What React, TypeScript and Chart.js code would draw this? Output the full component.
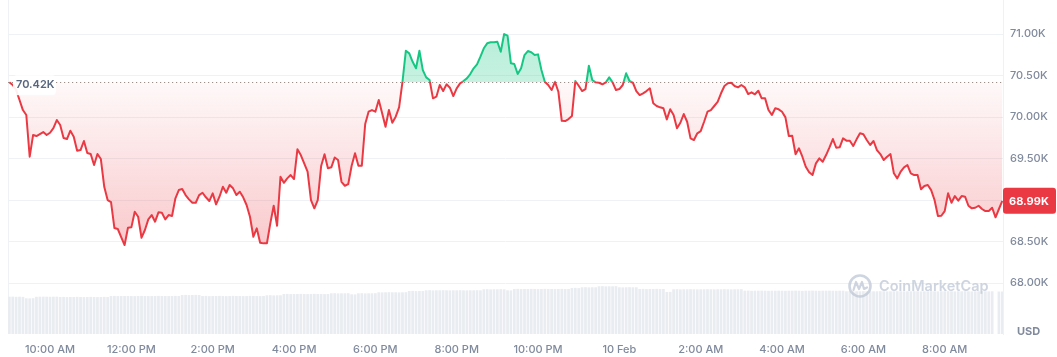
import React, { useEffect, useRef } from 'react';
import { Chart, registerables } from 'chart.js';

Chart.register(...registerables);

// Time axis: minutes relative to 10:00 AM, one sample every 5 minutes starting 9:00 AM
const START_MIN = -60;
const STEP_MIN = 5;
const OPEN_PRICE = 70420;
const LAST_PRICE = 68990;

const prices: number[] = [
  70420, 70386, 70325, 70205, 70084, 70024, 69522, 69783, 69771, 69795,
  69819, 69783, 69811, 69867, 69964, 69904, 69747, 69735, 69835, 69763,
  69594, 69602, 69711, 69566, 69554, 69422, 69554, 69494, 69160, 69000,
  68976, 68663, 68651, 68554, 68458, 68666, 68671, 68859, 68799, 68546,
  68639, 68767, 68819, 68739, 68852, 68847, 68767, 68819, 68807, 69021,
  69120, 69133, 69060, 69008, 68967, 68967, 69060, 69088, 69033, 68988,
  69081, 68948, 69040, 69160, 69088, 69181, 69141, 69060, 69100, 69033,
  68940, 68799, 68558, 68659, 68486, 68478, 68478, 68719, 68931, 68690,
  69281, 69208, 69261, 69301, 69253, 69611, 69542, 69442, 69341, 69000,
  68900, 69000, 69410, 69551, 69382, 69394, 69512, 69482, 69220, 69172,
  69193, 69413, 69563, 69413, 69413, 69916, 70064, 70084, 70064, 70205,
  70045, 69883, 70084, 69931, 70004, 70117, 70425, 70799, 70767, 70666,
  70587, 70799, 70566, 70478, 70446, 70225, 70245, 70386, 70313, 70394,
  70353, 70253, 70346, 70406, 70434, 70466, 70518, 70587, 70635, 70727,
  70828, 70888, 70900, 70900, 70907, 70787, 71000, 70980, 70647, 70639,
  70518, 70587, 70747, 70795, 70780, 70747, 70755, 70566, 70425, 70386,
  70325, 70425, 70305, 69955, 69952, 69976, 70012, 70434, 70377, 70313,
  70337, 70618, 70446, 70418, 70413, 70394, 70418, 70478, 70418, 70325,
  70337, 70386, 70527, 70434, 70413, 70313, 70265, 70286, 70313, 70346,
  70165, 70133, 70117, 70105, 69972, 70093, 70024, 69864, 69931, 70036,
  69943, 69743, 69723, 69804, 69831, 69943, 70064, 70084, 70133, 70184,
  70286, 70374, 70406, 70413, 70374, 70358, 70386, 70358, 70277, 70298,
  70274, 70317, 70225, 70225, 70084, 70024, 70105, 70093, 70064, 69996,
  69771, 69775, 69551, 69623, 69522, 69401, 69334, 69301, 69442,
  69502, 69461, 69542, 69635, 69735, 69630, 69635, 69743, 69715, 69715,
  69651, 69731, 69804, 69792, 69723, 69663, 69711, 69602, 69554, 69482,
  69522, 69554, 69322, 69261, 69341, 69394, 69422, 69322, 69301, 69301,
  69129, 69169, 69181, 69120, 69000, 68807, 68811, 68867, 69081, 68967,
  69048, 68992, 69048, 69040, 68931, 68900, 68907, 68931, 68892, 68867,
  68867, 68907, 68792, 68892, 68990,
];

// Relative volume per sample (arbitrary units)
const volumes: number[] = [
  37.3, 37.4, 37.2, 37.3, 37.1, 35.7, 35.6, 35.8, 37.2, 37.3,
  37.4, 37.3, 37.2, 37.3, 37.3, 37.0, 37.1, 36.9, 37.0, 37.0,
  37.1, 37.0, 36.9, 37.0, 37.1, 37.0, 36.9, 37.0, 37.1, 37.0,
  38.0, 38.1, 37.9, 38.0, 38.0, 38.1, 38.0, 37.9, 38.0, 38.1,
  38.0, 38.0, 37.9, 38.0, 38.1, 38.0, 38.0, 37.9, 38.0, 38.1,
  38.0, 39.0, 39.1, 38.9, 39.0, 39.1, 39.0, 38.0, 38.1, 37.9,
  38.0, 38.0, 38.1, 38.0, 37.9, 38.0, 38.1, 38.0, 38.0, 37.9,
  38.0, 38.1, 38.0, 38.0, 37.9, 38.0, 38.7, 38.8, 38.6, 38.7,
  38.7, 40.0, 40.1, 39.9, 40.0, 40.0, 40.1, 40.0, 39.9, 40.0,
  40.1, 40.0, 40.0, 39.9, 40.0, 40.7, 40.8, 40.6, 40.7, 40.7,
  40.8, 39.7, 39.6, 40.7, 40.8, 40.6, 40.7, 40.7, 40.8, 41.7,
  41.6, 41.7, 41.8, 41.7, 41.7, 41.6, 41.7, 41.8, 43.0, 43.1,
  42.9, 43.0, 43.0, 43.7, 43.8, 43.6, 43.7, 43.7, 43.8, 43.7,
  43.6, 43.7, 43.7, 43.8, 43.7, 43.6, 43.7, 43.7, 43.8, 43.7,
  44.7, 44.8, 44.6, 44.7, 44.7, 44.8, 44.7, 43.7, 43.6, 45.0,
  45.1, 44.9, 45.0, 45.0, 45.1, 45.0, 44.9, 45.0, 45.1, 45.0,
  45.0, 44.9, 45.0, 45.1, 45.0, 45.0, 46.0, 46.1, 45.9, 46.7,
  46.8, 46.6, 46.7, 46.7, 47.7, 47.8, 47.6, 47.7, 47.7, 47.8,
  46.7, 46.6, 46.7, 46.8, 46.7, 46.7, 45.0, 45.1, 44.9, 45.0,
  45.0, 45.1, 44.9, 45.0, 42.0, 42.1, 44.7, 44.8, 44.6, 44.7,
  44.7, 44.8, 44.7, 44.6, 44.7, 44.7, 44.8, 44.7, 44.6, 44.7,
  44.7, 44.8, 44.7, 44.6, 44.7, 44.7, 44.8, 43.3, 43.4, 43.2,
  43.3, 43.3, 43.4, 43.3, 43.2, 43.3, 43.3, 43.4, 43.3, 43.2,
  43.3, 43.3, 43.4, 43.3, 43.2, 43.3, 43.3, 43.4, 43.3, 43.2,
  43.3, 43.3, 43.4, 43.3, 43.2, 43.3, 43.3, 42.7, 42.8, 42.6,
  42.7, 42.7, 42.8, 42.7, 42.6, 42.7, 42.7, 42.8, 42.7, 42.6,
  42.7, 42.7, 42.8, 42.7, 42.6, 42.7, 42.7, 42.8, 42.7, 42.6,
  42.7, 42.7, 42.8, 42.7, 42.6, 42.7, 42.7, 42.8, 42.7, 42.6,
  42.7, 42.7, 42.8, 42.7, 42.6, 42.7, 42.7, 42.8, 42.7, 42.6,
  42.7, 0, 42.5, 42.5,
];

const xTickMinutes = [0, 120, 240, 360, 480, 600, 720, 840, 960, 1080, 1200, 1320];
const xTickLabels = [
  '10:00 AM', '12:00 PM', '2:00 PM', '4:00 PM', '6:00 PM', '8:00 PM',
  '10:00 PM', '10 Feb', '2:00 AM', '4:00 AM', '6:00 AM', '8:00 AM',
];
const yTickValues = [68000, 68500, 69000, 69500, 70000, 70500, 71000];

const RED = '#ea3943';
const GREEN = '#16c784';
const AXIS_TEXT = '#808a9d';
const GRID = '#eff2f5';

const fmtK = (v: number) => (v / 1000).toFixed(2) + 'K';
const clamp01 = (v: number) => Math.max(0, Math.min(1, v));

function lineGradient(chart: any) {
  const { ctx, chartArea, scales } = chart;
  if (!chartArea || !scales.y) return RED;
  const h = chartArea.bottom - chartArea.top;
  const s = clamp01((scales.y.getPixelForValue(OPEN_PRICE) - chartArea.top) / h);
  const g = ctx.createLinearGradient(0, chartArea.top, 0, chartArea.bottom);
  g.addColorStop(0, GREEN);
  g.addColorStop(s, GREEN);
  g.addColorStop(s, RED);
  g.addColorStop(1, RED);
  return g;
}

function fillGradient(chart: any) {
  const { ctx, chartArea, scales } = chart;
  if (!chartArea || !scales.y) return 'rgba(234,57,67,0.1)';
  const h = chartArea.bottom - chartArea.top;
  const s = clamp01((scales.y.getPixelForValue(OPEN_PRICE) - chartArea.top) / h);
  const s2 = clamp01((scales.y.getPixelForValue(68450) - chartArea.top) / h);
  const g = ctx.createLinearGradient(0, chartArea.top, 0, chartArea.bottom);
  g.addColorStop(0, 'rgba(22,199,132,0.36)');
  g.addColorStop(s, 'rgba(22,199,132,0.24)');
  g.addColorStop(s, 'rgba(234,57,67,0.03)');
  g.addColorStop(s2, 'rgba(234,57,67,0.27)');
  g.addColorStop(1, 'rgba(234,57,67,0.3)');
  return g;
}

function roundRect(ctx: CanvasRenderingContext2D, x: number, y: number, w: number, h: number, r: number) {
  ctx.beginPath();
  ctx.moveTo(x + r, y);
  ctx.lineTo(x + w - r, y);
  ctx.quadraticCurveTo(x + w, y, x + w, y + r);
  ctx.lineTo(x + w, y + h - r);
  ctx.quadraticCurveTo(x + w, y + h, x + w - r, y + h);
  ctx.lineTo(x + r, y + h);
  ctx.quadraticCurveTo(x, y + h, x, y + h - r);
  ctx.lineTo(x, y + r);
  ctx.quadraticCurveTo(x, y, x + r, y);
  ctx.closePath();
}

const overlayPlugin = {
  id: 'cmcOverlay',
  beforeDatasetsDraw(chart: any) {
    const { ctx, chartArea, scales } = chart;
    ctx.save();
    ctx.strokeStyle = GRID;
    ctx.lineWidth = 1;
    ctx.beginPath();
    ctx.moveTo(chartArea.left + 0.5, chartArea.top);
    ctx.lineTo(chartArea.left + 0.5, chartArea.bottom);
    ctx.stroke();
    const yb = Math.round(scales.y.getPixelForValue(OPEN_PRICE)) + 0.5;
    ctx.setLineDash([1.2, 2.8]);
    ctx.strokeStyle = '#9a918c';
    ctx.beginPath();
    ctx.moveTo(chartArea.left, yb);
    ctx.lineTo(chartArea.right, yb);
    ctx.stroke();
    ctx.restore();
  },
  afterDatasetsDraw(chart: any) {
    const { ctx, chartArea, scales } = chart;
    ctx.save();
    // watermark
    const wc = 'rgba(190,199,213,0.75)';
    ctx.strokeStyle = wc;
    ctx.lineWidth = 2.6;
    ctx.lineJoin = 'round';
    ctx.lineCap = 'round';
    const cx = 860, cy = 286;
    ctx.beginPath();
    ctx.arc(cx, cy, 10.5, 0, Math.PI * 2);
    ctx.stroke();
    ctx.lineWidth = 2.2;
    ctx.beginPath();
    ctx.moveTo(cx - 6.5, cy + 4);
    ctx.lineTo(cx - 4, cy - 4);
    ctx.lineTo(cx - 1, cy + 3);
    ctx.lineTo(cx + 2, cy - 4);
    ctx.lineTo(cx + 4, cy + 3);
    ctx.lineTo(cx + 7, cy + 1.5);
    ctx.stroke();
    ctx.fillStyle = wc;
    ctx.font = '600 14.5px Inter';
    ctx.textAlign = 'left';
    ctx.textBaseline = 'middle';
    ctx.fillText('CoinMarketCap', 879, 287);

    // open price label
    const yb = scales.y.getPixelForValue(OPEN_PRICE);
    ctx.fillStyle = 'rgba(255,255,255,0.92)';
    roundRect(ctx, 13, yb - 7, 43, 20, 4);
    ctx.fill();
    ctx.fillStyle = '#58667e';
    ctx.font = '600 11px Inter';
    ctx.fillText(fmtK(OPEN_PRICE), 16, yb + 3);

    // last price badge
    const yl = scales.y.getPixelForValue(LAST_PRICE);
    ctx.fillStyle = RED;
    roundRect(ctx, chartArea.right, yl - 13, 53, 26, 3);
    ctx.fill();
    ctx.fillStyle = '#ffffff';
    ctx.font = '700 11px Inter';
    ctx.fillText(fmtK(LAST_PRICE), chartArea.right + 6, yl + 0.5);

    // currency
    ctx.fillStyle = AXIS_TEXT;
    ctx.font = '700 11px Inter';
    ctx.fillText('USD', 1017, 332);
    ctx.restore();
  },
};

export default function App() {
  const ref = useRef<HTMLCanvasElement>(null);
  useEffect(() => {
    document.body.style.margin = '0';
    const canvas = ref.current;
    if (!canvas) return;
    Chart.defaults.font.family = 'Inter';
    const chart = new Chart(canvas, {
      type: 'line',
      data: {
        datasets: [
          {
            type: 'line',
            data: prices.map((p, i) => ({ x: START_MIN + i * STEP_MIN, y: p })),
            xAxisID: 'x',
            yAxisID: 'y',
            borderWidth: 2,
            borderColor: (c: any) => lineGradient(c.chart),
            backgroundColor: (c: any) => fillGradient(c.chart),
            fill: { target: { value: OPEN_PRICE } },
            pointRadius: 0,
            pointHoverRadius: 0,
            tension: 0,
            borderJoinStyle: 'round',
            order: 0,
          } as any,
          {
            type: 'bar',
            data: volumes.map((v, i) => ({ x: START_MIN + i * STEP_MIN, y: v })),
            xAxisID: 'x',
            yAxisID: 'yv',
            backgroundColor: '#e9ecf0',
            barPercentage: 0.8,
            categoryPercentage: 1,
            order: 1,
          } as any,
        ],
      },
      options: {
        responsive: false,
        animation: false,
        layout: { padding: { left: 8, right: 0, top: 0, bottom: 0 } },
        plugins: { legend: { display: false }, tooltip: { enabled: false } },
        scales: {
          x: {
            type: 'linear',
            offset: false,
            min: -62,
            max: 1406,
            grid: { display: false, drawTicks: false, offset: false },
            border: { display: false },
            afterBuildTicks: (s: any) => {
              s.ticks = xTickMinutes.map((v) => ({ value: v }));
            },
            afterFit: (s: any) => {
              s.height = 23;
              s.paddingLeft = 0;
              s.paddingRight = 0;
            },
            ticks: {
              autoSkip: false,
              maxRotation: 0,
              padding: 9,
              color: AXIS_TEXT,
              font: { family: 'Inter', size: 11, weight: '500' },
              callback: (v: any) => {
                const k = xTickMinutes.indexOf(Number(v));
                return k >= 0 ? xTickLabels[k] : '';
              },
            },
          },
          y: {
            type: 'linear',
            position: 'right',
            min: 67386,
            max: 71410,
            afterBuildTicks: (s: any) => {
              s.ticks = yTickValues.map((v) => ({ value: v }));
            },
            afterFit: (s: any) => {
              s.width = 54;
              s.paddingTop = 0;
              s.paddingBottom = 0;
            },
            grid: { color: GRID, drawTicks: false },
            border: { display: true, color: GRID },
            ticks: {
              padding: 7,
              color: AXIS_TEXT,
              font: { family: 'Inter', size: 11, weight: '500' },
              callback: (v: any) => fmtK(Number(v)),
            },
          },
          yv: {
            type: 'linear',
            display: false,
            min: 0,
            max: 334,
          },
        },
      } as any,
      plugins: [overlayPlugin],
    });
    return () => chart.destroy();
  }, []);
  return (
    <div style={{ width: 1057, height: 357 }}>
      <canvas ref={ref} width={1057} height={357} style={{ display: 'block' }} />
    </div>
  );
}
